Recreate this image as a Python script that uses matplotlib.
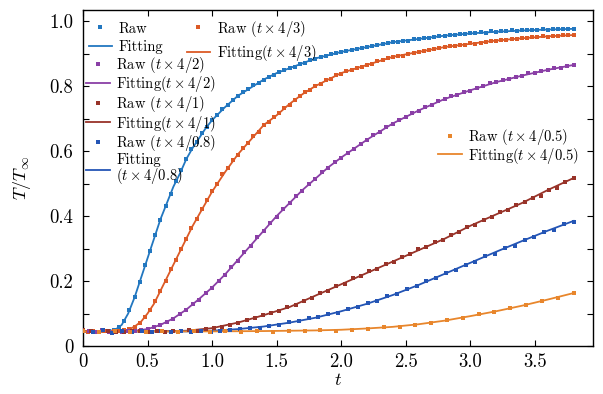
import numpy as np
import matplotlib
matplotlib.use('Agg')
import matplotlib.pyplot as plt

plt.rcParams['font.family'] = 'serif'
plt.rcParams['font.serif'] = ['cmr10']
plt.rcParams['mathtext.fontset'] = 'cm'
plt.rcParams['axes.unicode_minus'] = False

# ---------------- data ----------------
labels = ["", r"$t\times4/3$", r"$t\times4/2$", r"$t\times4/1$", r"$t\times4/0.8$", r"$t\times4/0.5$"]
colors = ["#2277c0", "#dc5a26", "#8a3fa6", "#983329", "#2455b5", "#e8862c"]

# fitting curves
fit1_t = [0, 0.1, 0.2, 0.25, 0.3, 0.35, 0.4, 0.45, 0.5, 0.55, 0.6, 0.65, 0.7, 0.75, 0.8, 0.85, 0.9, 0.95,
          1.0, 1.1, 1.2, 1.3, 1.4, 1.5, 1.6, 1.7, 1.8, 1.9, 2.0, 2.2, 2.4, 2.6, 2.8, 3.0, 3.2, 3.4, 3.6, 3.8]
fit1_y = [0.045, 0.045, 0.046, 0.05, 0.065, 0.1, 0.15, 0.21, 0.27, 0.33, 0.39, 0.44, 0.49, 0.53, 0.575, 0.61, 0.64, 0.67,
          0.695, 0.735, 0.77, 0.795, 0.82, 0.84, 0.855, 0.87, 0.885, 0.895, 0.905, 0.92, 0.935, 0.945, 0.955, 0.962, 0.967, 0.971, 0.974, 0.976]

fit2_t = [0, 0.2, 0.3, 0.35, 0.4, 0.45, 0.5, 0.55, 0.6, 0.65, 0.7, 0.75, 0.8, 0.85, 0.9, 0.95, 1.0, 1.1, 1.2, 1.3,
          1.4, 1.5, 1.6, 1.7, 1.8, 1.9, 2.0, 2.2, 2.4, 2.6, 2.8, 3.0, 3.2, 3.4, 3.6, 3.8]
fit2_y = [0.045, 0.045, 0.047, 0.05, 0.06, 0.075, 0.1, 0.13, 0.17, 0.21, 0.25, 0.29, 0.33, 0.37, 0.405, 0.44, 0.475, 0.535, 0.59, 0.635,
          0.68, 0.71, 0.745, 0.775, 0.8, 0.82, 0.84, 0.865, 0.89, 0.905, 0.92, 0.93, 0.94, 0.947, 0.953, 0.957]

fit3_t = [0, 0.3, 0.4, 0.5, 0.6, 0.7, 0.8, 0.9, 1.0, 1.1, 1.2, 1.3, 1.4, 1.5, 1.6, 1.7, 1.8, 1.9, 2.0,
          2.2, 2.4, 2.6, 2.8, 3.0, 3.2, 3.4, 3.6, 3.8]
fit3_y = [0.045, 0.045, 0.047, 0.052, 0.065, 0.085, 0.112, 0.145, 0.18, 0.22, 0.265, 0.31, 0.355, 0.4, 0.44, 0.48, 0.515, 0.55, 0.58,
          0.635, 0.685, 0.725, 0.76, 0.787, 0.812, 0.832, 0.85, 0.865]

fit4_t = [0, 0.5, 0.8, 1.0, 1.2, 1.4, 1.6, 1.8, 2.0, 2.2, 2.4, 2.6, 2.8, 3.0, 3.2, 3.4, 3.6, 3.8]
fit4_y = [0.045, 0.045, 0.047, 0.055, 0.072, 0.095, 0.12, 0.155, 0.19, 0.225, 0.26, 0.295, 0.33, 0.37, 0.405, 0.44, 0.48, 0.517]

fit5_t = [0, 0.8, 1.0, 1.2, 1.4, 1.6, 1.8, 2.0, 2.2, 2.4, 2.6, 2.8, 3.0, 3.2, 3.4, 3.6, 3.8]
fit5_y = [0.045, 0.045, 0.047, 0.052, 0.06, 0.072, 0.087, 0.107, 0.13, 0.157, 0.188, 0.222, 0.256, 0.29, 0.323, 0.355, 0.385]

fit6_t = [0, 1.0, 1.4, 1.8, 2.0, 2.2, 2.4, 2.6, 2.8, 3.0, 3.2, 3.4, 3.6, 3.8]
fit6_y = [0.045, 0.045, 0.046, 0.048, 0.05, 0.054, 0.059, 0.067, 0.078, 0.092, 0.107, 0.124, 0.143, 0.163]

# raw measurements (evenly sampled from t=0 to t=3.8)
raw1 = [0.048, 0.044, 0.046, 0.042, 0.045, 0.047, 0.049, 0.058, 0.078, 0.11, 0.152, 0.196, 0.248, 0.292, 0.343, 0.388,
        0.432, 0.468, 0.508, 0.541, 0.574, 0.605, 0.627, 0.655, 0.674, 0.696, 0.71, 0.729, 0.741, 0.758, 0.768, 0.781,
        0.79, 0.802, 0.809, 0.82, 0.829, 0.835, 0.844, 0.848, 0.856, 0.86, 0.868, 0.872, 0.88, 0.884, 0.889, 0.892,
        0.898, 0.901, 0.906, 0.907, 0.912, 0.913, 0.918, 0.92, 0.924, 0.925, 0.93, 0.931, 0.935, 0.936, 0.94, 0.94,
        0.944, 0.945, 0.948, 0.948, 0.952, 0.953, 0.955, 0.957, 0.957, 0.961, 0.96, 0.963, 0.962, 0.965, 0.964, 0.968,
        0.966, 0.969, 0.969, 0.971, 0.97, 0.972, 0.971, 0.974, 0.973, 0.975, 0.974, 0.976, 0.975, 0.977, 0.976, 0.977]
raw2 = [0.046, 0.043, 0.047, 0.044, 0.045, 0.043, 0.046, 0.045, 0.049, 0.051, 0.06, 0.071, 0.09, 0.112, 0.137, 0.17,
        0.2, 0.236, 0.265, 0.3, 0.328, 0.364, 0.392, 0.422, 0.448, 0.476, 0.5, 0.529, 0.547, 0.571, 0.588, 0.608,
        0.624, 0.646, 0.66, 0.679, 0.69, 0.706, 0.716, 0.733, 0.743, 0.758, 0.768, 0.782, 0.789, 0.8, 0.806, 0.819,
        0.822, 0.834, 0.838, 0.846, 0.849, 0.857, 0.859, 0.866, 0.868, 0.876, 0.879, 0.885, 0.888, 0.893, 0.894, 0.9,
        0.901, 0.905, 0.907, 0.912, 0.913, 0.918, 0.919, 0.922, 0.922, 0.927, 0.927, 0.931, 0.93, 0.934, 0.935, 0.939,
        0.939, 0.942, 0.941, 0.945, 0.944, 0.948, 0.947, 0.95, 0.95, 0.953, 0.952, 0.955, 0.954, 0.957, 0.956, 0.958]
raw3 = [0.05, 0.047, 0.044, 0.048, 0.043, 0.046, 0.044, 0.047, 0.046, 0.05, 0.051, 0.058, 0.064, 0.075, 0.083, 0.099,
        0.11, 0.129, 0.143, 0.163, 0.18, 0.199, 0.22, 0.244, 0.263, 0.289, 0.308, 0.334, 0.354, 0.379, 0.398, 0.422,
        0.44, 0.461, 0.478, 0.5, 0.514, 0.534, 0.548, 0.567, 0.579, 0.595, 0.607, 0.623, 0.634, 0.649, 0.659, 0.674,
        0.684, 0.696, 0.704, 0.717, 0.724, 0.736, 0.742, 0.754, 0.759, 0.768, 0.773, 0.783, 0.786, 0.795, 0.799, 0.808,
        0.811, 0.819, 0.821, 0.829, 0.831, 0.839, 0.84, 0.847, 0.849, 0.855, 0.856, 0.863, 0.865]
raw4 = [0.05, 0.046, 0.043, 0.047, 0.044, 0.042, 0.046, 0.045, 0.043, 0.047, 0.044, 0.046, 0.045, 0.049, 0.047, 0.052,
        0.054, 0.06, 0.066, 0.072, 0.08, 0.087, 0.094, 0.102, 0.108, 0.12, 0.126, 0.139, 0.148, 0.162, 0.17, 0.184,
        0.192, 0.208, 0.215, 0.23, 0.238, 0.252, 0.26, 0.275, 0.283, 0.297, 0.305, 0.319, 0.326, 0.342, 0.35, 0.367,
        0.372, 0.389, 0.396, 0.411, 0.418, 0.433, 0.442, 0.456, 0.462, 0.48, 0.487, 0.504, 0.517]
raw5 = [0.046, 0.043, 0.048, 0.041, 0.045, 0.043, 0.046, 0.042, 0.045, 0.043, 0.046, 0.042, 0.045, 0.044, 0.047, 0.049,
        0.051, 0.055, 0.056, 0.063, 0.064, 0.073, 0.076, 0.085, 0.088, 0.098, 0.102, 0.114, 0.119, 0.133, 0.139, 0.155,
        0.16, 0.176, 0.184, 0.2, 0.208, 0.226, 0.233, 0.25, 0.259, 0.278, 0.284, 0.302, 0.309, 0.327, 0.334, 0.35,
        0.358, 0.374, 0.383]
raw6 = [0.047, 0.043, 0.046, 0.044, 0.042, 0.045, 0.043, 0.046, 0.042, 0.045, 0.043, 0.047, 0.044, 0.046, 0.045, 0.048,
        0.046, 0.05, 0.051, 0.057, 0.058, 0.066, 0.07, 0.08, 0.085, 0.097, 0.104, 0.118, 0.125, 0.14, 0.148, 0.164]

raws = [raw1, raw2, raw3, raw4, raw5, raw6]
fits = [(fit1_t, fit1_y), (fit2_t, fit2_y), (fit3_t, fit3_y), (fit4_t, fit4_y), (fit5_t, fit5_y), (fit6_t, fit6_y)]
t_end = 3.8

xticks = [0, 0.5, 1.0, 1.5, 2.0, 2.5, 3.0, 3.5]
xticklabels = ["0", "0.5", "1.0", "1.5", "2.0", "2.5", "3.0", "3.5"]
yticks = [0, 0.1, 0.2, 0.3, 0.4, 0.5, 0.6, 0.7, 0.8, 0.9, 1.0]
yticklabels = ["0", "", "0.2", "", "0.4", "", "0.6", "", "0.8", "", "1.0"]

# ---------------- plot ----------------
fig = plt.figure(figsize=(6.03, 3.94), dpi=100)
ax = fig.add_axes([0.1376, 0.1218, 0.8458, 0.8528])

raw_h, fit_h = [], []
for i in range(6):
    r = raws[i]
    t = np.linspace(0, t_end, len(r))
    hr, = ax.plot(t, r, 's', ms=2.2, mew=0, color=colors[i], zorder=3)
    hr.set_snap(False)
    hf, = ax.plot(fits[i][0], fits[i][1], '-', lw=1.3, color=colors[i], zorder=2)
    raw_h.append(hr)
    fit_h.append(hf)

ax.set_xlim(0, 3.95)
ax.set_ylim(0, 1.034)
ax.set_xticks(xticks)
ax.set_xticklabels(xticklabels)
ax.set_yticks(yticks)
ax.set_yticklabels(yticklabels)
ax.tick_params(direction='in', top=True, right=True, length=4, width=0.8, labelsize=13.5)
ax.tick_params(axis='y', pad=7)
ax.tick_params(axis='x', pad=5)
for s in ax.spines.values():
    s.set_linewidth(1.0)
ax.set_xlabel(r"$t$", fontsize=13, labelpad=1)
ax.set_ylabel(r"$T/T_\infty$", fontsize=13, labelpad=12)

def lab_raw(i):
    return "Raw" if i == 0 else "Raw (" + labels[i] + ")"

def lab_fit(i):
    if i == 0:
        return "Fitting"
    if i == 4:
        return "Fitting\n(" + labels[i] + ")"
    return "Fitting(" + labels[i] + ")"

leg_kw = dict(frameon=False, fontsize=10.5, handlelength=1.6, handletextpad=0.45,
              numpoints=1, borderpad=0.2, borderaxespad=0.2)

legA = ax.legend([raw_h[0], fit_h[0], raw_h[1], fit_h[1]],
                 [lab_raw(0), lab_fit(0), lab_raw(1), lab_fit(1)],
                 loc='upper left', bbox_to_anchor=(0.0, 0.992), ncol=2, columnspacing=1.6,
                 labelspacing=0.3, **leg_kw)
ax.add_artist(legA)
legB = ax.legend([raw_h[2], fit_h[2], raw_h[3], fit_h[3], raw_h[4], fit_h[4]],
                 [lab_raw(2), lab_fit(2), lab_raw(3), lab_fit(3), lab_raw(4), lab_fit(4)],
                 loc='upper left', bbox_to_anchor=(-0.005, 0.884), labelspacing=-0.03, **leg_kw)
for txt in legB.get_texts():
    txt.set_linespacing(0.95)
ax.add_artist(legB)
legC = ax.legend([raw_h[5], fit_h[5]], [lab_raw(5), lab_fit(5)],
                 loc='upper left', bbox_to_anchor=(0.685, 0.67), labelspacing=-0.08, **leg_kw)

fig.savefig("out.png", dpi=100)
